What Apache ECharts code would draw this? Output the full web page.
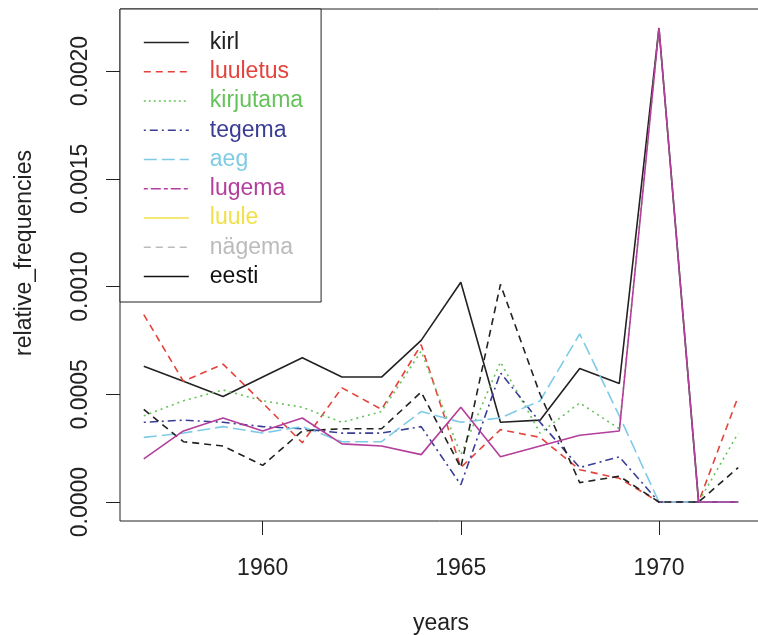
<!DOCTYPE html>
<html>
<head>
<meta charset="utf-8">
<script src="https://cdn.jsdelivr.net/npm/echarts@6/dist/echarts.min.js"></script>
<style>
html,body{margin:0;padding:0;background:#fff;}
#chart{width:758px;height:635px;}
</style>
</head>
<body>
<div id="chart"></div>
<script>
var years = [1957,1958,1959,1960,1961,1962,1963,1964,1965,1966,1967,1968,1969,1970,1971,1972];
var xTicks = [1960,1965,1970];
var yTicks = [0,0.0005,0.001,0.0015,0.002];

var kirl      = [0.00063,0.00056,0.00049,0.00058,0.00067,0.00058,0.00058,0.00075,0.00102,0.00037,0.00038,0.00062,0.00055,0.0022,0,0];
var luuletus  = [0.00087,0.00056,0.00064,0.00046,0.000275,0.00053,0.00043,0.00073,0.00016,0.000336,0.0003,0.00015,0.00011,0,0,0.00049];
var kirjutama = [0.0004,0.00047,0.00052,0.00047,0.00044,0.00037,0.00042,0.0007,0.00022,0.00065,0.00032,0.00046,0.00034,0.0022,0,0.00032];
var tegema    = [0.00037,0.00038,0.00037,0.00035,0.00034,0.00032,0.00032,0.00035,0.00008,0.0006,0.00037,0.00016,0.00021,0,0,0];
var aeg       = [0.0003,0.00032,0.00035,0.00032,0.00035,0.00028,0.00028,0.00042,0.00037,0.00039,0.00047,0.00078,0.0004,0,0,0];
var lugema    = [0.0002,0.00033,0.00039,0.00033,0.00039,0.00027,0.00026,0.00022,0.00044,0.00021,0.00026,0.00031,0.00033,0.0022,0,0];
var luule     = [0.00043,0.00028,0.00026,0.00017,0.00033,0.00034,0.00034,0.00051,0.00016,0.00101,0.0005,0.00009,0.00012,0,0,0.00016];
var nagema    = [null,null,null,null,null,null,null,null,null,null,null,null,null,null,null,null];
var eesti     = [null,null,null,null,null,null,null,null,null,null,null,null,null,null,null,null];

var names = ['kirl','luuletus','kirjutama','tegema','aeg','lugema','luule','nägema','eesti'];
var values = [kirl,luuletus,kirjutama,tegema,aeg,lugema,luule,nagema,eesti];

var FONT = '"Liberation Sans", Arial, Helvetica, sans-serif';
var TXT = '#222';
var plotStyles = [
  {color:'#222222', type:'solid'},
  {color:'#E4423A', type:[7,5]},
  {color:'#66C25A', type:[2,4]},
  {color:'#3A3D94', type:[2,4,8,4]},
  {color:'#7FCBE6', type:[13,5]},
  {color:'#B43E9C', type:'solid'},
  {color:'#222222', type:[7,5]},
  {color:'#E4423A', type:[2,4]},
  {color:'#66C25A', type:[2,4,8,4]}
];
var legendStyles = [
  {color:'#222222', type:'solid'},
  {color:'#E4423A', type:[7,5]},
  {color:'#66C25A', type:[2,3]},
  {color:'#3A3D94', type:[2,4,8,4]},
  {color:'#7FCBE6', type:[13,5]},
  {color:'#B43E9C', type:[4,3,10,3]},
  {color:'#F1E04A', type:'solid'},
  {color:'#BBBBBB', type:[7,5]},
  {color:'#111111', type:'solid'}
];

var series = names.map(function(n,i){
  return {
    name: n,
    type: 'line',
    symbol: 'none',
    animation: false,
    data: years.map(function(y,j){ return [y, values[i][j]]; }),
    lineStyle: {color: plotStyles[i].color, type: plotStyles[i].type, width: 1.6},
    itemStyle: {color: plotStyles[i].color},
    z: 2 + (i===5 ? 5 : 0)
  };
});

var legendData = names.map(function(n,i){
  return {
    name: n,
    itemStyle: {color: legendStyles[i].color, opacity: 0},
    lineStyle: {color: legendStyles[i].color, type: legendStyles[i].type, width: 1.6, opacity: 1},
    textStyle: {color: legendStyles[i].color}
  };
});

var chart = echarts.init(document.getElementById('chart'), null, {renderer:'canvas'});
chart.setOption({
  backgroundColor: '#ffffff',
  animation: false,
  grid: {left:120, top:9, width:642, height:512, show:true, borderColor:'#222', borderWidth:1,
         backgroundColor:'transparent', outerBoundsMode:'none', containLabel:false},
  legend: {
    orient: 'vertical',
    left: 120, top: 9,
    padding: [22, 18, 14, 23],
    itemWidth: 45, itemHeight: 14, itemGap: 6.25,
    backgroundColor: '#ffffff',
    borderColor: '#222', borderWidth: 1,
    selectedMode: false,
    textStyle: {fontFamily: FONT, fontSize: 23, lineHeight: 23, padding: [0,0,0,16]},
    data: legendData
  },
  xAxis: {
    type: 'value', min: 1956.4, max: 1972.6,
    name: 'years', nameLocation: 'middle', nameGap: 91,
    nameTextStyle: {fontFamily: FONT, fontSize: 23, color: TXT},
    axisLine: {show:false, onZero:false},
    splitLine: {show:false},
    axisTick: {show:true, length:14, customValues: xTicks, lineStyle:{color:'#222', width:1}},
    axisLabel: {customValues: xTicks, margin: 36, fontFamily: FONT, fontSize: 23, color: TXT,
      formatter: function(v){ return String(v); }}
  },
  yAxis: {
    type: 'value', min: -0.000088, max: 0.002288,
    name: 'relative_frequencies', nameLocation: 'middle', nameGap: 84,
    nameTextStyle: {fontFamily: FONT, fontSize: 23, color: TXT, padding: [0,0,0,24]},
    axisLine: {show:false, onZero:false},
    splitLine: {show:false},
    axisTick: {show:true, length:14, customValues: yTicks, lineStyle:{color:'#222', width:1}},
    axisLabel: {customValues: yTicks, rotate: 90, margin: 28, fontFamily: FONT, fontSize: 23, color: TXT,
      formatter: function(v){ return v.toFixed(4); }}
  },
  series: series
});
</script>
</body>
</html>
